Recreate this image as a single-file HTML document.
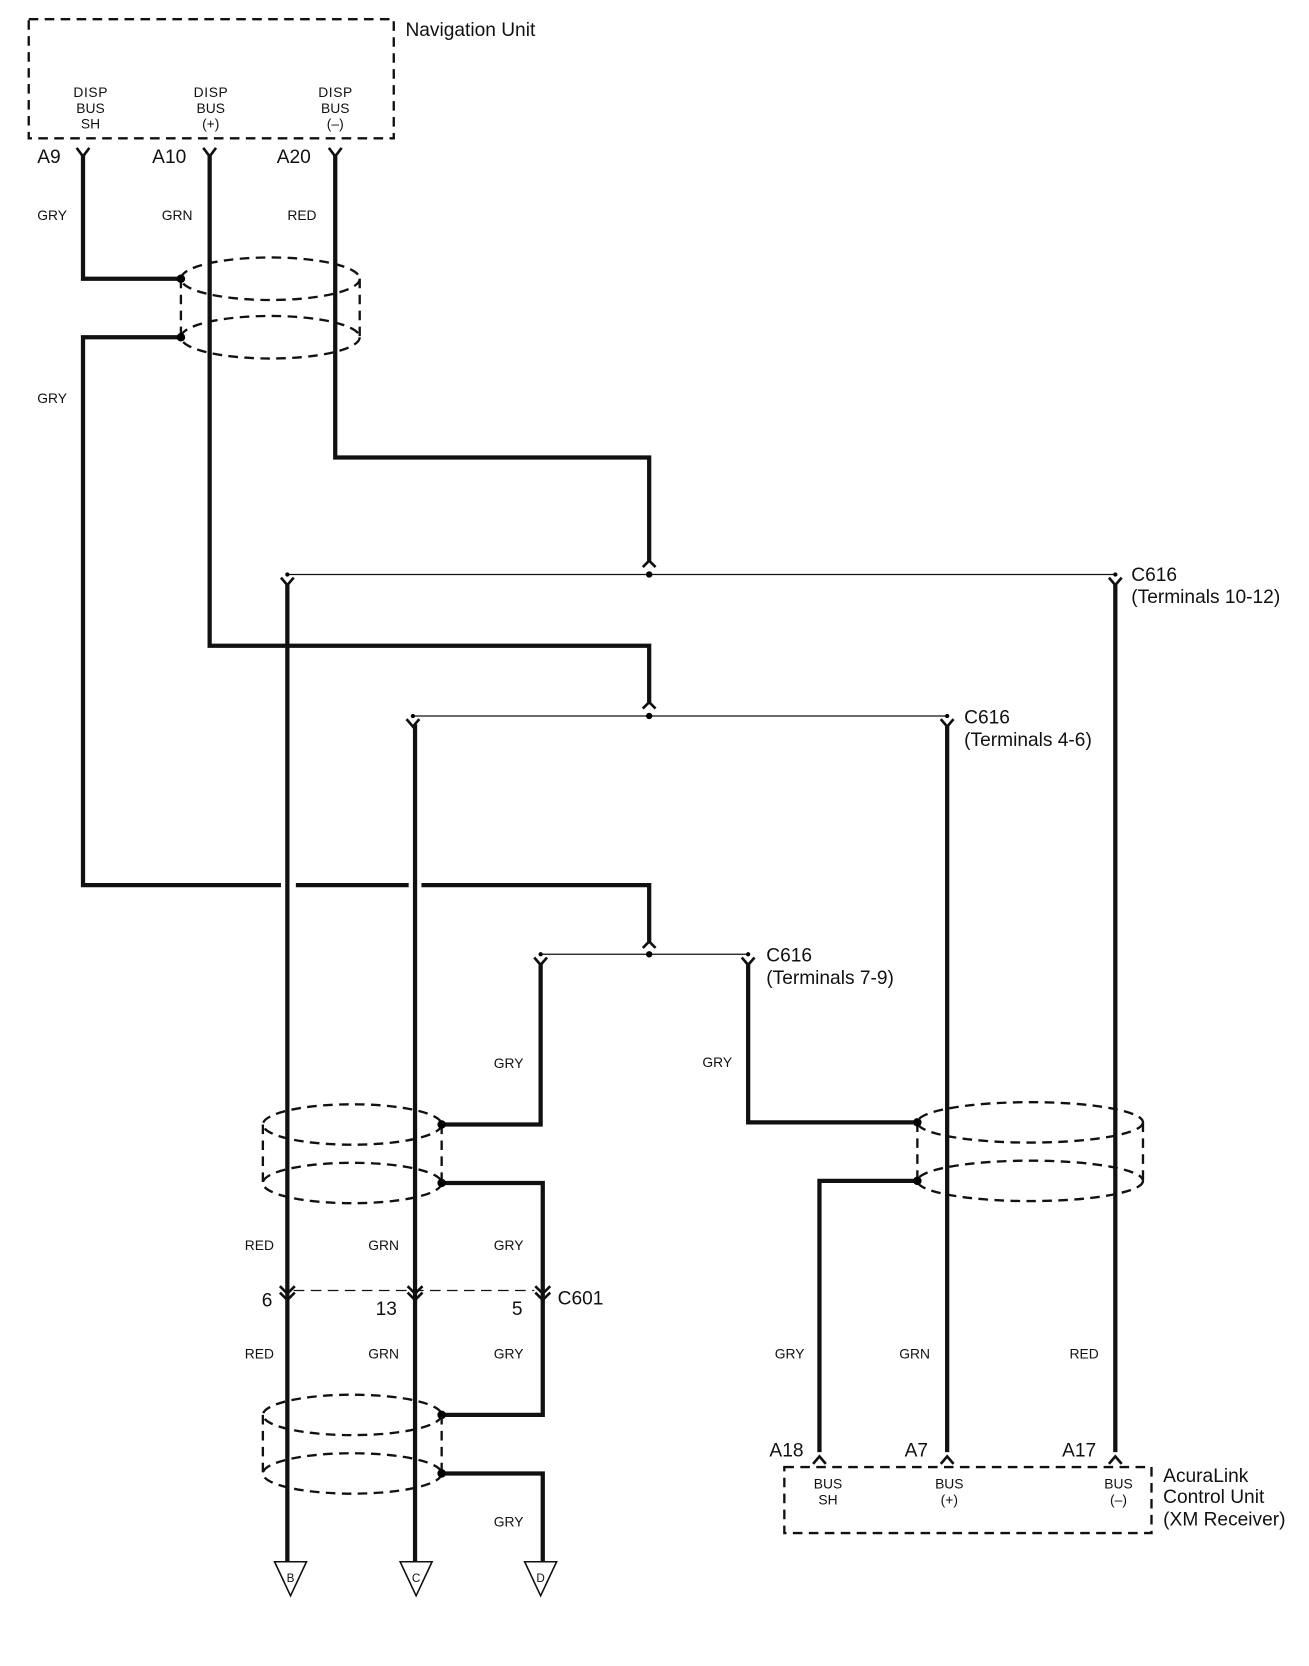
<!DOCTYPE html>
<html><head><meta charset="utf-8"><style>
html,body{margin:0;padding:0;background:#fff;}
svg{display:block;}
text{font-family:"Liberation Sans",sans-serif;fill:#111;}
.w{stroke:#111;stroke-width:4;fill:none;stroke-linejoin:miter;}
.t{stroke:#111;stroke-width:1.2;fill:none;}
.d{stroke:#111;stroke-width:2.2;fill:none;stroke-dasharray:9,6;}
.s{font-size:13px;}
.p{font-size:18px;}
.l{font-size:18px;}
.c{font-size:13px;text-anchor:middle;}
</style></head><body>
<svg width="1309" height="1666" viewBox="0 0 1230 1566" preserveAspectRatio="none" xmlns="http://www.w3.org/2000/svg">
<rect x="27" y="18" width="343" height="112" class="d"/>
<text x="381" y="34" class="l">Navigation Unit</text>
<text x="85" y="91" class="c" textLength="32">DISP</text><text x="85" y="106" class="c">BUS</text><text x="85" y="121" class="c">SH</text>
<text x="198" y="91" class="c" textLength="32">DISP</text><text x="198" y="106" class="c">BUS</text><text x="198" y="121" class="c">(+)</text>
<text x="315" y="91" class="c" textLength="32">DISP</text><text x="315" y="106" class="c">BUS</text><text x="315" y="121" class="c">(–)</text>
<text x="35" y="153" class="p">A9</text><text x="143" y="153" class="p">A10</text><text x="260" y="153" class="p">A20</text>
<path class="t" d="M72 139 L78 147 L84 139 M191 139 L197 147 L203 139 M309 139 L315 147 L321 139" style="stroke-width:2.5"/>
<path class="w" d="M78 145 V262 H170"/>
<path class="w" d="M170 317 H78 V832 H264 M278 832 H384 M396 832 H610 V885"/>
<path class="w" d="M197 145 V607 H610 V660"/>
<path class="w" d="M315 145 V430 H610 V527"/>
<text x="35" y="207" class="s">GRY</text><text x="152" y="207" class="s">GRN</text><text x="270" y="207" class="s">RED</text>
<text x="35" y="379" class="s">GRY</text>
<ellipse cx="254" cy="262" rx="84" ry="20" class="d"/>
<ellipse cx="254" cy="317" rx="84" ry="20" class="d"/>
<path class="d" d="M170 262 V317 M338 262 V317"/>
<circle cx="170" cy="262" r="4"/><circle cx="170" cy="317" r="4"/>
<path class="t" style="stroke-width:2.5" d="M604 533 L610 527 L616 533 M604 666 L610 660 L616 666 M604 891 L610 885 L616 891"/>
<path class="t" d="M270 540 H1048 M388 673 H890 M508 897 H703"/>
<circle cx="610" cy="540" r="3"/><circle cx="610" cy="673" r="3"/><circle cx="610" cy="897" r="3"/>
<circle cx="270" cy="540" r="2"/><circle cx="1048" cy="540" r="2"/><circle cx="388" cy="673" r="2"/><circle cx="890" cy="673" r="2"/><circle cx="508" cy="897" r="2"/><circle cx="703" cy="897" r="2"/>
<path class="t" style="stroke-width:2.5" d="M264 543 L270 550 L276 543 M1042 543 L1048 550 L1054 543 M382 676 L388 683 L394 676 M884 676 L890 683 L896 676 M502 900 L508 907 L514 900 M697 900 L703 907 L709 900"/>
<text x="1063" y="546" class="l">C616</text><text x="1063" y="567" class="l">(Terminals 10-12)</text>
<text x="906" y="680" class="l">C616</text><text x="906" y="701" class="l">(Terminals 4-6)</text>
<text x="720" y="904" class="l">C616</text><text x="720" y="925" class="l">(Terminals 7-9)</text>
<path class="w" d="M270 548 V1468"/>
<path class="w" d="M390 681 V1468"/>
<path class="w" d="M1048 548 V1365"/>
<path class="w" d="M890 681 V1365"/>
<path class="w" d="M508 905 V1057 H415"/>
<path class="w" d="M415 1112 H510 V1330 H415"/>
<path class="w" d="M415 1385 H510 V1468"/>
<path class="w" d="M703 905 V1055 H862"/>
<path class="w" d="M862 1110 H770 V1365"/>
<text x="464" y="1004" class="s">GRY</text><text x="660" y="1003" class="s">GRY</text>
<ellipse cx="331" cy="1057" rx="84" ry="19" class="d"/>
<ellipse cx="331" cy="1112" rx="84" ry="19" class="d"/>
<path class="d" d="M247 1057 V1112 M415 1057 V1112"/>
<circle cx="415" cy="1057" r="4"/><circle cx="415" cy="1112" r="4"/>
<ellipse cx="331" cy="1330" rx="84" ry="19" class="d"/>
<ellipse cx="331" cy="1385" rx="84" ry="19" class="d"/>
<path class="d" d="M247 1330 V1385 M415 1330 V1385"/>
<circle cx="415" cy="1330" r="4"/><circle cx="415" cy="1385" r="4"/>
<ellipse cx="968" cy="1055" rx="106" ry="19" class="d"/>
<ellipse cx="968" cy="1110" rx="106" ry="19" class="d"/>
<path class="d" d="M862 1055 V1110 M1074 1055 V1110"/>
<circle cx="862" cy="1055" r="4"/><circle cx="862" cy="1110" r="4"/>
<path class="t" style="stroke-dasharray:10,6" d="M276 1213 H502"/>
<path class="t" style="stroke-width:2.5" d="M263 1209 L270 1216 L277 1209 M263 1215 L270 1222 L277 1215 M383 1209 L390 1216 L397 1209 M383 1215 L390 1222 L397 1215 M503 1209 L510 1216 L517 1209 M503 1215 L510 1222 L517 1215"/>
<text x="246" y="1228" class="p">6</text><text x="353" y="1236" class="p">13</text><text x="481" y="1236" class="p">5</text><text x="524" y="1226" class="p">C601</text>
<text x="230" y="1175" class="s">RED</text><text x="346" y="1175" class="s">GRN</text><text x="464" y="1175" class="s">GRY</text>
<text x="230" y="1277" class="s">RED</text><text x="346" y="1277" class="s">GRN</text><text x="464" y="1277" class="s">GRY</text>
<text x="464" y="1435" class="s">GRY</text>
<text x="728" y="1277" class="s">GRY</text><text x="845" y="1277" class="s">GRN</text><text x="1005" y="1277" class="s">RED</text>
<path class="t" style="stroke-width:1.5" d="M258 1468 H288 L273 1500 Z M376 1468 H406 L391 1500 Z M493 1468 H523 L508 1500 Z"/>
<text x="273" y="1487" class="c" style="font-size:11px">B</text><text x="391" y="1487" class="c" style="font-size:11px">C</text><text x="508" y="1487" class="c" style="font-size:11px">D</text>
<path class="t" style="stroke-width:2.5" d="M764 1376 L770 1369 L776 1376 M884 1376 L890 1369 L896 1376 M1042 1376 L1048 1369 L1054 1376"/>
<text x="723" y="1369" class="p">A18</text><text x="850" y="1369" class="p">A7</text><text x="998" y="1369" class="p">A17</text>
<rect x="737" y="1379" width="345" height="62" class="d"/>
<text x="778" y="1399" class="c">BUS</text><text x="778" y="1414" class="c">SH</text>
<text x="892" y="1399" class="c">BUS</text><text x="892" y="1414" class="c">(+)</text>
<text x="1051" y="1399" class="c">BUS</text><text x="1051" y="1414" class="c">(–)</text>
<text x="1093" y="1393" class="l">AcuraLink</text><text x="1093" y="1413" class="l">Control Unit</text><text x="1093" y="1434" class="l">(XM Receiver)</text>
</svg>
</body></html>
